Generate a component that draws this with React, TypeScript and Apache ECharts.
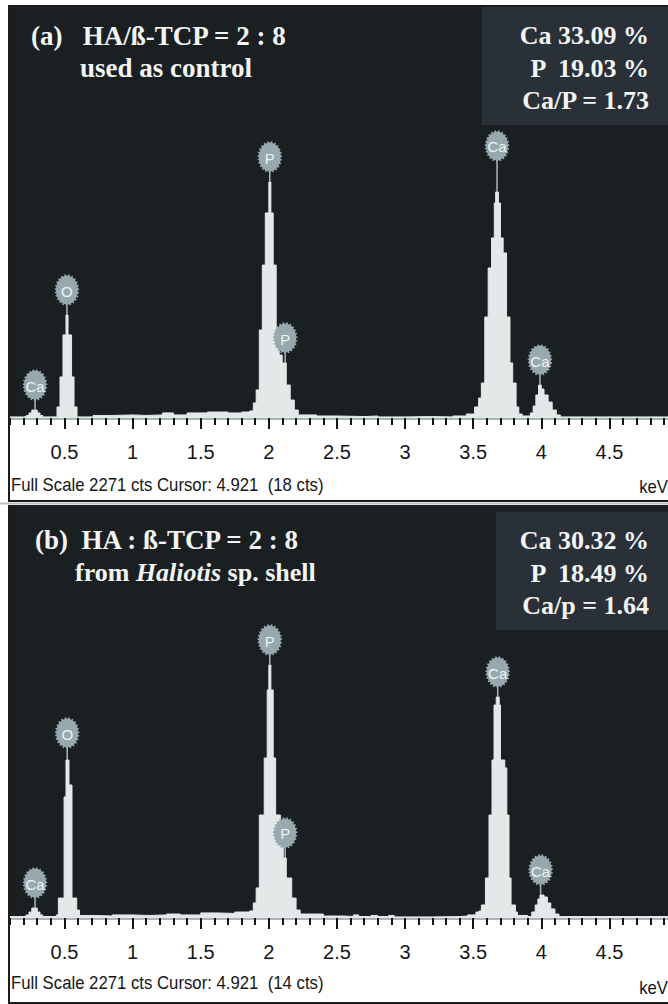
import React, { useEffect, useRef } from "react";
import * as echarts from "echarts";

// ---- Spectrum (a): HA/ß-TCP = 2 : 8 control — histogram bin starts (keV) and counts
const energyA = [
  0.1, 0.2, 0.22, 0.24, 0.26, 0.3, 0.32, 0.34,
  0.445, 0.467, 0.489, 0.511, 0.526, 0.552, 0.57, 0.592,
  0.71, 0.85, 1.0, 1.1, 1.22, 1.3, 1.4, 1.55, 1.7, 1.8, 1.86,
  1.886, 1.907, 1.93, 1.952, 1.974, 2.0, 2.015, 2.032, 2.054, 2.076, 2.098, 2.128, 2.157, 2.187, 2.216,
  2.35, 2.5, 2.7, 2.8, 3.0, 3.2, 3.35, 3.45,
  3.51, 3.54, 3.56, 3.585, 3.61, 3.635, 3.655, 3.665, 3.685, 3.7, 3.72, 3.745, 3.77, 3.79, 3.815, 3.835, 3.86,
  3.92, 3.94, 3.96, 3.98, 4.0, 4.02, 4.05, 4.08, 4.11, 4.14, 4.93,
];
const countsA = [
  6, 8, 14, 28, 44, 28, 14, 6,
  61, 227, 459, 569, 459, 227, 61, 6,
  14, 17, 14, 17, 28, 17, 28, 33, 28, 33, 39,
  83, 155, 486, 845, 1133, 1304, 1133, 845, 486, 348, 304, 182, 99, 44, 17,
  11, 8, 11, 6, 8, 6, 11, 22,
  61, 110, 193, 558, 829, 995, 1188, 1249, 1188, 995, 912, 558, 304, 193, 61, 22, 11,
  28, 66, 127, 182, 160, 127, 88, 44, 17, 6, 6,
];

// ---- Spectrum (b): HA : ß-TCP = 2 : 8 from Haliotis sp. shell
const energyB = [
  0.1, 0.2, 0.22, 0.24, 0.26, 0.3, 0.32, 0.34,
  0.44, 0.455, 0.497, 0.511, 0.533, 0.555, 0.59, 0.61,
  0.72, 0.85, 1.0, 1.12, 1.25, 1.35, 1.5, 1.62, 1.75, 1.86,
  1.886, 1.907, 1.93, 1.966, 1.988, 2.0, 2.015, 2.032, 2.05, 2.085, 2.106, 2.128, 2.168, 2.2, 2.23,
  2.4, 2.55, 2.62, 2.66, 2.75, 2.8, 2.88, 2.92, 3.2, 3.4, 3.46,
  3.52, 3.544, 3.56, 3.59, 3.616, 3.638, 3.653, 3.669, 3.691, 3.7, 3.732, 3.747, 3.763, 3.778, 3.81, 3.825,
  3.9, 3.93, 3.955, 3.975, 3.99, 4.02, 4.045, 4.07, 4.1, 4.13, 4.93,
];
const countsB = [
  8, 11, 17, 33, 55, 33, 17, 8,
  17, 110, 669, 873, 735, 110, 44, 14,
  11, 17, 14, 17, 22, 17, 28, 25, 33, 39,
  83, 166, 569, 884, 1260, 1398, 1260, 884, 569, 420, 332, 221, 110, 44, 22,
  11, 8, 17, 8, 14, 8, 14, 6, 8, 11, 17,
  33, 39, 72, 221, 569, 873, 1177, 1221, 1177, 873, 829, 569, 221, 72, 33, 14,
  8, 33, 72, 105, 127, 116, 83, 50, 22, 8, 6,
];

// ---- Peak identification tags: element, energy (keV), count at peak top, count at tag centre
const tagElementsA = ["Ca", "O", "P", "P", "Ca", "Ca"];
const tagEnergyA = [0.284, 0.518, 2.007, 2.12, 3.675, 3.99];
const tagPeakA = [44, 569, 1304, 304, 1249, 182];
const tagHeadA = [182, 707, 1442, 442, 1503, 320];

const tagElementsB = ["Ca", "O", "P", "P", "Ca", "Ca"];
const tagEnergyB = [0.284, 0.52, 2.007, 2.12, 3.68, 3.995];
const tagPeakB = [55, 873, 1398, 332, 1221, 127];
const tagHeadB = [193, 1022, 1536, 470, 1359, 265];

// ---- Energy axis
const majorTicks = [0.5, 1, 1.5, 2, 2.5, 3, 3.5, 4, 4.5];
const majorTickLabels = ["0.5", "1", "1.5", "2", "2.5", "3", "3.5", "4", "4.5"];
const minorTicks = [
  0.1, 0.2, 0.3, 0.4, 0.5, 0.6, 0.7, 0.8, 0.9, 1.0,
  1.1, 1.2, 1.3, 1.4, 1.5, 1.6, 1.7, 1.8, 1.9, 2.0,
  2.1, 2.2, 2.3, 2.4, 2.5, 2.6, 2.7, 2.8, 2.9, 3.0,
  3.1, 3.2, 3.3, 3.4, 3.5, 3.6, 3.7, 3.8, 3.9, 4.0,
  4.1, 4.2, 4.3, 4.4, 4.5, 4.6, 4.7, 4.8, 4.9,
];
const E_MIN = 0.1;
const E_MAX = 4.93;
const FULL_SCALE = 2271;

// ---- Panel annotations
const compositionA = ["Ca 33.09 %", "P  19.03 %", "Ca/P = 1.73"];
const compositionB = ["Ca 30.32 %", "P  18.49 %", "Ca/p = 1.64"];
const footerA = "Full Scale 2271 cts Cursor: 4.921  (18 cts)";
const footerB = "Full Scale 2271 cts Cursor: 4.921  (14 cts)";

const PLOT_BG = "#1a1f22";
const BOX_BG = "#293038";
const SPEC_FILL = "#e3e9e9";
const TAG_FILL = "#97a9ae";
const SERIF = '"Liberation Serif", "Times New Roman", serif';
const SANS = '"Liberation Sans", Arial, sans-serif';

const tagRenderer = (names: string[]) => (params: any, api: any) => {
  const base = api.coord([api.value(0), api.value(1)]);
  const head = api.coord([api.value(0), api.value(2)]);
  return {
    type: "group",
    children: [
      {
        type: "line",
        shape: { x1: base[0], y1: base[1], x2: head[0], y2: head[1] },
        style: { stroke: "#a8b8bc", lineWidth: 1.5 },
      },
      {
        type: "ellipse",
        shape: { cx: head[0], cy: head[1], rx: 11, ry: 14.5 },
        style: { fill: TAG_FILL, stroke: TAG_FILL, lineWidth: 2.5, lineDash: [1.5, 2] },
      },
      {
        type: "text",
        x: head[0],
        y: head[1] + 1,
        style: {
          text: names[params.dataIndex],
          fill: "#eef4f4",
          fontSize: 15,
          fontFamily: SANS,
          align: "center",
          verticalAlign: "middle",
        },
      },
    ],
  };
};

const energyAxes = (gridIndex: number) => [
  {
    type: "value",
    gridIndex,
    min: E_MIN,
    max: E_MAX,
    position: "bottom",
    axisLine: { show: true, onZero: false, lineStyle: { color: "#aab4b6", width: 3 } },
    axisTick: { show: true, customValues: minorTicks, length: 7, lineStyle: { color: "#151515", width: 2 } },
    axisLabel: { show: false },
    splitLine: { show: false },
  },
  {
    type: "value",
    gridIndex,
    min: E_MIN,
    max: E_MAX,
    position: "bottom",
    axisLine: { show: false, onZero: false },
    axisTick: { show: true, customValues: majorTicks, length: 11, lineStyle: { color: "#151515", width: 2 } },
    axisLabel: {
      show: true,
      customValues: majorTicks,
      formatter: (v: number) => {
        const i = majorTicks.findIndex((t) => Math.abs(t - v) < 1e-6);
        return i >= 0 ? majorTickLabels[i] : "";
      },
      color: "#151515",
      fontSize: 20,
      fontFamily: SANS,
      margin: 24,
    },
    splitLine: { show: false },
  },
];

const spectrumSeries = (axis: number, energy: number[], counts: number[]) => ({
  type: "line",
  xAxisIndex: axis,
  yAxisIndex: axis / 2,
  data: energy.map((e, i) => [e, counts[i]]),
  step: "end",
  symbol: "none",
  silent: true,
  lineStyle: { width: 1, color: SPEC_FILL },
  areaStyle: { color: SPEC_FILL, opacity: 1 },
  z: 2,
});

const tagSeries = (axis: number, names: string[], energy: number[], peak: number[], head: number[]) => ({
  type: "custom",
  xAxisIndex: axis,
  yAxisIndex: axis / 2,
  data: energy.map((e, i) => [e, peak[i], head[i]]),
  renderItem: tagRenderer(names),
  silent: true,
  clip: false,
  z: 5,
});

const serifText = (x: number, y: number, text: string, align = "left", size = 26) => ({
  type: "text",
  x,
  y,
  z: 20,
  style: {
    text,
    fill: "#f3f4f4",
    fontSize: size,
    fontWeight: "bold",
    fontFamily: SERIF,
    align,
    verticalAlign: "middle",
  },
});

const footerText = (x: number, y: number, text: string, align = "left") => ({
  type: "text",
  x,
  y,
  z: 20,
  scaleX: 0.93,
  style: { text, fill: "#151515", fontSize: 18, fontFamily: SANS, align, verticalAlign: "middle" },
});

export default function App() {
  const ref = useRef<HTMLDivElement>(null);

  useEffect(() => {
    if (!ref.current) return;
    const chart = echarts.init(ref.current, undefined, { renderer: "svg" });
    chart.setOption({
      animation: false,
      backgroundColor: "#ffffff",
      grid: [
        { left: 10, right: 0, top: 7, height: 411, show: true, backgroundColor: PLOT_BG, borderWidth: 0 },
        { left: 10, right: 0, top: 507, height: 411, show: true, backgroundColor: PLOT_BG, borderWidth: 0 },
      ],
      xAxis: [...energyAxes(0), ...energyAxes(1)],
      yAxis: [
        { type: "value", gridIndex: 0, min: 0, max: FULL_SCALE, show: false, splitLine: { show: false } },
        { type: "value", gridIndex: 1, min: 0, max: FULL_SCALE, show: false, splitLine: { show: false } },
      ],
      series: [
        spectrumSeries(0, energyA, countsA),
        tagSeries(0, tagElementsA, tagEnergyA, tagPeakA, tagHeadA),
        spectrumSeries(2, energyB, countsB),
        tagSeries(2, tagElementsB, tagEnergyB, tagPeakB, tagHeadB),
      ],
      graphic: [
        // panel frames
        { type: "rect", z: 1, shape: { x: 9, y: 6, width: 700, height: 495 }, style: { fill: "none", stroke: "#1c1c1c", lineWidth: 2 } },
        { type: "line", z: 1, shape: { x1: 0, y1: 503.5, x2: 668, y2: 503.5 }, style: { stroke: "#b9c0c2", lineWidth: 2 } },
        { type: "rect", z: 1, shape: { x: 9, y: 506, width: 700, height: 497 }, style: { fill: "none", stroke: "#1c1c1c", lineWidth: 2 } },
        // composition boxes
        { type: "rect", z: 10, shape: { x: 482, y: 7, width: 186, height: 118 }, style: { fill: BOX_BG } },
        { type: "rect", z: 10, shape: { x: 496, y: 512, width: 172, height: 118 }, style: { fill: BOX_BG } },
        // panel (a) titles
        serifText(31, 36, "(a)   HA/ß-TCP = 2 : 8", "left", 27),
        serifText(80, 68, "used as control", "left", 27),
        serifText(649, 35, compositionA[0], "right"),
        serifText(649, 68, compositionA[1], "right"),
        serifText(649, 100, compositionA[2], "right"),
        // panel (b) titles
        serifText(35, 540, "(b)  HA : ß-TCP = 2 : 8", "left", 27),
        {
          type: "text",
          x: 75,
          y: 572,
          z: 20,
          style: {
            text: "{n|from }{i|Haliotis}{n| sp. shell}",
            verticalAlign: "middle",
            rich: {
              n: { fill: "#f3f4f4", fontSize: 26, fontWeight: "bold", fontFamily: SERIF },
              i: { fill: "#f3f4f4", fontSize: 26, fontWeight: "bold", fontStyle: "italic", fontFamily: SERIF },
            },
          },
        },
        serifText(649, 540, compositionB[0], "right"),
        serifText(649, 573, compositionB[1], "right"),
        serifText(649, 605, compositionB[2], "right"),
        // acquisition footers
        footerText(11, 485, footerA),
        footerText(668, 487, "keV", "right"),
        footerText(11, 983, footerB),
        footerText(668, 988, "keV", "right"),
      ],
    });
    return () => chart.dispose();
  }, []);

  return <div ref={ref} style={{ position: "fixed", left: 0, top: 0, width: 668, height: 1004 }} />;
}
